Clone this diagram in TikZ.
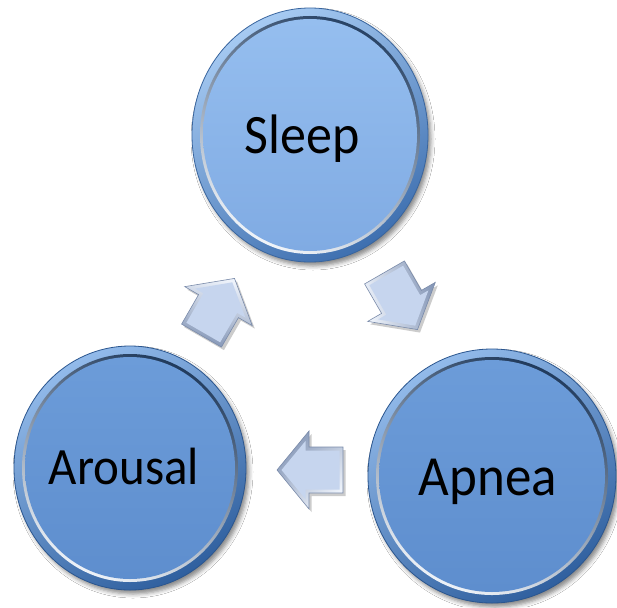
\documentclass[tikz,border=0pt]{standalone}
\usepackage{fontspec}
\setmainfont{Carlito}
\usetikzlibrary{shapes.geometric,shadows.blur}
\definecolor{sleeprimA}{HTML}{A6CAF2}
\definecolor{sleeprimB}{HTML}{3F70B0}
\definecolor{sleepfillA}{HTML}{95BEEF}
\definecolor{sleepfillB}{HTML}{80ABE3}
\definecolor{lowrimA}{HTML}{92BAEA}
\definecolor{lowrimB}{HTML}{30609F}
\definecolor{lowfillA}{HTML}{6C9CD9}
\definecolor{lowfillB}{HTML}{5E8ECE}
\definecolor{arrowfill}{HTML}{C6D5EE}
\definecolor{arrowlight}{HTML}{EEF3FB}
\definecolor{arrowdark}{HTML}{8496B6}
\definecolor{arrowline}{HTML}{7A8BAA}
\tikzset{
  bubble/.style n args={6}{
    ellipse, inner sep=0pt, minimum width=2*#1, minimum height=2*#2,
    draw=#4!90!black, line width=0.8pt,
    top color=#3, bottom color=#4, shading angle=30,
    blur shadow={shadow xshift=3pt, shadow yshift=-4pt, shadow blur radius=4pt, shadow opacity=45},
    path picture={
      \shade[top color=#4!55!black, bottom color=white!90!#3, shading angle=-25]
        (path picture bounding box.center) ellipse [x radius=#1-8pt, y radius=#2-8pt];
      \shade[top color=#5, bottom color=#6]
        (path picture bounding box.center) ellipse [x radius=#1-11pt, y radius=#2-11pt];
    }
  },
  lbl/.style={inner sep=0pt, anchor=base, text=black},
  blockarrow/.pic={
    \begin{scope}[shift={(2.5pt,-3pt)},rotate=#1]
      \fill[black,opacity=.2] (-33pt,23pt) -- (1pt,23pt) -- (1pt,39pt) -- (33pt,0pt)
        -- (1pt,-39pt) -- (1pt,-23pt) -- (-33pt,-23pt) -- cycle;
    \end{scope}
    \begin{scope}[rotate=#1]
      \shade[top color=arrowlight, bottom color=arrowdark, shading angle=45-#1]
        (-33pt,23pt) -- (1pt,23pt) -- (1pt,39pt) -- (33pt,0pt)
        -- (1pt,-39pt) -- (1pt,-23pt) -- (-33pt,-23pt) -- cycle;
      \draw[arrowline, line width=.6pt, line join=miter]
        (-33pt,23pt) -- (1pt,23pt) -- (1pt,39pt) -- (33pt,0pt)
        -- (1pt,-39pt) -- (1pt,-23pt) -- (-33pt,-23pt) -- cycle;
      \fill[arrowfill] (-29.5pt,19.5pt) -- (4.5pt,19.5pt) -- (4.5pt,29pt) -- (28.5pt,0pt)
        -- (4.5pt,-29pt) -- (4.5pt,-19.5pt) -- (-29.5pt,-19.5pt) -- cycle;
    \end{scope}
  }
}
\begin{document}
\begin{tikzpicture}[x=1pt,y=-1pt]
\fill[white] (0,0) rectangle (617,607);
\useasboundingbox (0,0) rectangle (617,607);

\node[bubble={118pt}{127pt}{sleeprimA}{sleeprimB}{sleepfillA}{sleepfillB}] (sleep) at (310,135) {};
\node[bubble={116pt}{122pt}{lowrimA}{lowrimB}{lowfillA}{lowfillB}] (arousal) at (130,468) {};
\node[bubble={124pt}{127pt}{lowrimA}{lowrimB}{lowfillA}{lowfillB}] (apnea) at (492,476) {};

\node[lbl, font=\fontsize{52}{60}\selectfont] (sleeptxt) at (302,153) {\scalebox{1}[1.07]{Sleep}};
\node[lbl, font=\fontsize{49}{58}\selectfont] (arousaltxt) at (124,484) {\scalebox{1}[1.07]{Arousal}};
\node[lbl, font=\fontsize{53}{62}\selectfont] (apneatxt) at (488,495) {\scalebox{1}[1.07]{Apnea}};

\pic (arrA) at (401,301) {blockarrow=-60};
\pic (arrB) at (218,307) {blockarrow=60};
\pic (arrC) at (310,470) {blockarrow=180};
\end{tikzpicture}
\end{document}
